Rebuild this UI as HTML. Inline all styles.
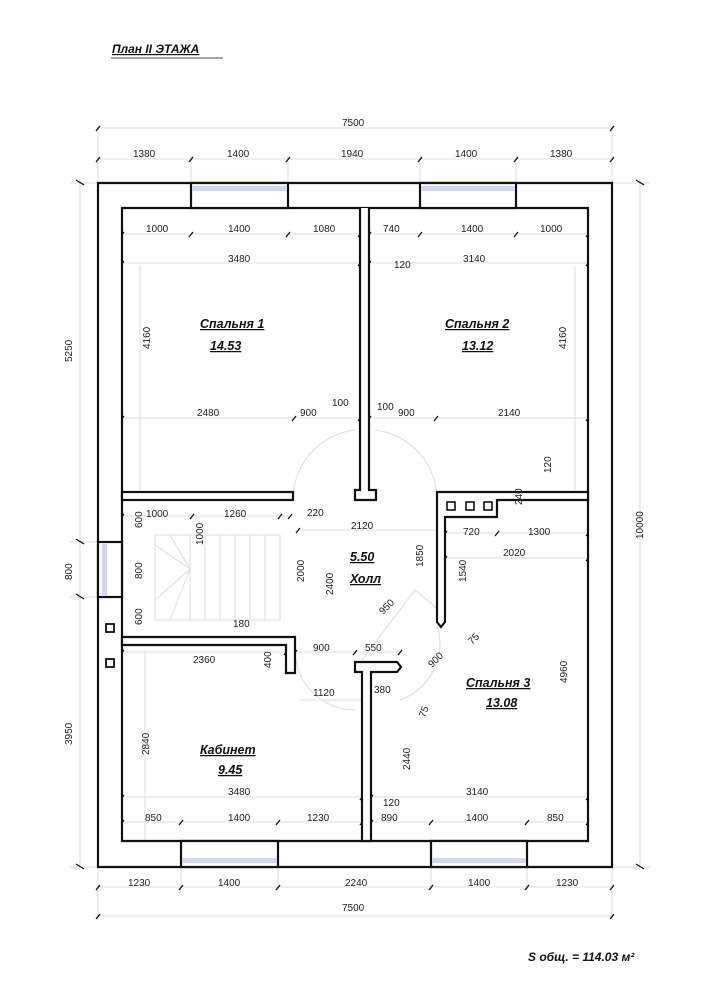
<!DOCTYPE html>
<html><head><meta charset="utf-8"><style>
html,body{margin:0;padding:0;background:#fff}
svg{display:block}
text{font-family:"Liberation Sans",Arial,sans-serif;font-size:10px;fill:#222}
.t{font-size:12.5px;font-weight:bold;font-style:italic;fill:#111;text-decoration:underline}
.d{stroke:#ddd;stroke-width:1;fill:none}
.tk{stroke:#111;stroke-width:1.3}
.w{fill:#fff;stroke:#111;stroke-width:2.2}
.win{fill:#d4d4f8}
</style></head><body>
<svg width="707" height="1000" viewBox="0 0 707 1000" xmlns="http://www.w3.org/2000/svg">
<text x="112" y="53" class="t" style="font-size:12px">План  II  ЭТАЖА</text>
<line x1="111" y1="58" x2="223" y2="58" stroke="#888" stroke-width="1.5"/>

<g class="d"><line x1="96" y1="128" x2="612" y2="128"/><line x1="96" y1="159" x2="612" y2="159"/>
<line x1="98" y1="125" x2="98" y2="182"/><line x1="612" y1="125" x2="612" y2="182"/>
<line x1="191" y1="156" x2="191" y2="182"/><line x1="288" y1="156" x2="288" y2="182"/>
<line x1="420" y1="156" x2="420" y2="182"/><line x1="516" y1="156" x2="516" y2="182"/>
<line x1="96" y1="887" x2="612" y2="887"/><line x1="96" y1="916" x2="612" y2="916"/>
<line x1="98" y1="867" x2="98" y2="920"/><line x1="612" y1="867" x2="612" y2="920"/>
<line x1="181" y1="867" x2="181" y2="890"/><line x1="278" y1="867" x2="278" y2="890"/>
<line x1="431" y1="867" x2="431" y2="890"/><line x1="527" y1="867" x2="527" y2="890"/>
<line x1="80" y1="180" x2="80" y2="867"/><line x1="640" y1="180" x2="640" y2="867"/>
<line x1="70" y1="183" x2="98" y2="183"/><line x1="70" y1="867" x2="98" y2="867"/><line x1="70" y1="542" x2="98" y2="542"/><line x1="70" y1="597" x2="98" y2="597"/>
<line x1="612" y1="183" x2="650" y2="183"/><line x1="612" y1="867" x2="650" y2="867"/>
<line x1="122" y1="234" x2="360" y2="234"/><line x1="369" y1="234" x2="588" y2="234"/>
<line x1="122" y1="263" x2="360" y2="263"/><line x1="369" y1="263" x2="588" y2="263"/>
<line x1="122" y1="418" x2="360" y2="418"/><line x1="369" y1="418" x2="588" y2="418"/>
<line x1="122" y1="797" x2="362" y2="797"/><line x1="371" y1="797" x2="588" y2="797"/>
<line x1="122" y1="822" x2="362" y2="822"/><line x1="371" y1="822" x2="588" y2="822"/>
<line x1="140" y1="265" x2="140" y2="490"/><line x1="575" y1="265" x2="575" y2="490"/>
<line x1="122" y1="516" x2="290" y2="516"/><line x1="300" y1="530" x2="437" y2="530"/>
<line x1="445" y1="533" x2="588" y2="533"/><line x1="445" y1="558" x2="588" y2="558"/>
<line x1="122" y1="652" x2="290" y2="652"/><line x1="296" y1="652" x2="400" y2="652"/>
<line x1="300" y1="700" x2="362" y2="700"/><line x1="590" y1="540" x2="590" y2="840"/>
<line x1="145" y1="650" x2="145" y2="840"/>
<path d="M293 500 A70 70 0 0 1 355 430"/><path d="M437 500 A70 70 0 0 0 375 430"/>
<path d="M295 650 A60 60 0 0 0 355 710"/><path d="M437 625 A60 60 0 0 1 400 700"/>
<path d="M362 660 L415 590 L445 615"/>
<rect x="155" y="535" width="125" height="85"/>
<line x1="190" y1="535" x2="190" y2="620"/><line x1="205" y1="535" x2="205" y2="620"/><line x1="220" y1="535" x2="220" y2="620"/><line x1="235" y1="535" x2="235" y2="620"/><line x1="250" y1="535" x2="250" y2="620"/><line x1="265" y1="535" x2="265" y2="620"/>
<line x1="190" y1="569" x2="155" y2="545"/><line x1="190" y1="569" x2="155" y2="600"/><line x1="190" y1="569" x2="170" y2="620"/><line x1="190" y1="569" x2="170" y2="535"/>
</g>

<g class="tk">
<path d="M96 131l4-5M610 131l4-5M96 162l4-5M189 162l4-5M286 162l4-5M418 162l4-5M514 162l4-5M610 162l4-5"/>
<path d="M96 890l4-5M179 890l4-5M276 890l4-5M429 890l4-5M525 890l4-5M610 890l4-5M96 919l4-5M610 919l4-5"/>
<path d="M76 180l8 5M76 539l8 5M76 594l8 5M76 864l8 5M636 180l8 5M636 864l8 5"/>
<path d="M120 237l4-5M189 237l4-5M286 237l4-5M358 237l4-5M367 237l4-5M418 237l4-5M514 237l4-5M586 237l4-5"/>
<path d="M120 266l4-5M358 266l4-5M367 266l4-5M586 266l4-5M120 421l4-5M292 421l4-5M358 421l4-5M367 421l4-5M434 421l4-5M586 421l4-5"/>
<path d="M120 800l4-5M360 800l4-5M369 800l4-5M586 800l4-5M120 825l4-5M179 825l4-5M276 825l4-5M360 825l4-5M369 825l4-5M429 825l4-5M525 825l4-5M586 825l4-5"/>
<path d="M120 519l4-5M190 519l4-5M278 519l4-5M288 519l4-5M296 533l4-5M443 536l4-5M495 536l4-5M586 536l4-5M443 561l4-5M586 561l4-5"/>
<path d="M120 655l4-5M284 655l4-5M293 655l4-5M353 655l4-5M398 655l4-5"/>
</g>

<text x="342" y="126">7500</text>
<text x="133" y="157">1380</text><text x="227" y="157">1400</text><text x="341" y="157">1940</text><text x="455" y="157">1400</text><text x="550" y="157">1380</text>
<text x="342" y="911">7500</text>
<text x="128" y="886">1230</text><text x="218" y="886">1400</text><text x="345" y="886">2240</text><text x="468" y="886">1400</text><text x="556" y="886">1230</text>
<text transform="translate(72,362) rotate(-90)">5250</text>
<text transform="translate(72,580) rotate(-90)">800</text>
<text transform="translate(72,745) rotate(-90)">3950</text>
<text transform="translate(643,539) rotate(-90)">10000</text>

<path fill-rule="evenodd" d="M98 183 H612 V867 H98 Z M122 208 V841 H588 V208 Z" fill="#fff" stroke="#111" stroke-width="2.2"/>
<rect x="191" y="183" width="97" height="25" class="w"/><rect x="192" y="186" width="95" height="5" class="win"/>
<rect x="420" y="183" width="96" height="25" class="w"/><rect x="421" y="186" width="94" height="5" class="win"/>
<rect x="181" y="841" width="97" height="26" class="w"/><rect x="182" y="858" width="95" height="5" class="win"/>
<rect x="431" y="841" width="96" height="26" class="w"/><rect x="432" y="858" width="94" height="5" class="win"/>
<rect x="98" y="542" width="24" height="55" class="w"/><rect x="102" y="544" width="5" height="51" class="win"/>
<rect x="106" y="624" width="8" height="8" fill="#fff" stroke="#111" stroke-width="1.8"/>
<rect x="106" y="659" width="8" height="8" fill="#fff" stroke="#111" stroke-width="1.8"/>

<path class="w" d="M360 208 V490 H355 V500 H376 V490 H369 V208"/>
<rect x="122" y="492" width="171" height="8" class="w"/>
<path class="w" d="M437 492 H588 V500 H497 V517 H445 V622 L441 627 L437 622 Z"/>
<rect x="447" y="502" width="8" height="8" fill="#fff" stroke="#111" stroke-width="1.6"/>
<rect x="466" y="502" width="8" height="8" fill="#fff" stroke="#111" stroke-width="1.6"/>
<rect x="484" y="502" width="8" height="8" fill="#fff" stroke="#111" stroke-width="1.6"/>
<path class="w" d="M122 637 H295 V673 H286 V645 H122 Z"/>
<path class="w" d="M355 662 H397 L401 667 L397 672 H371 V841 H362 V672 H355 Z"/>

<text x="146" y="232">1000</text><text x="228" y="232">1400</text><text x="313" y="232">1080</text>
<text x="383" y="232">740</text><text x="461" y="232">1400</text><text x="540" y="232">1000</text>
<text x="228" y="262">3480</text><text x="463" y="262">3140</text><text x="394" y="268">120</text>
<text x="197" y="416">2480</text><text x="300" y="416">900</text><text x="332" y="406">100</text><text x="377" y="410">100</text><text x="398" y="416">900</text><text x="498" y="416">2140</text>
<text transform="translate(150,349) rotate(-90)">4160</text><text transform="translate(566,349) rotate(-90)">4160</text>
<text transform="translate(551,473) rotate(-90)">120</text><text transform="translate(522,505) rotate(-90)">240</text>
<text x="146" y="517">1000</text><text x="224" y="517">1260</text><text x="307" y="516">220</text><text x="351" y="529">2120</text>
<text x="463" y="535">720</text><text x="528" y="535">1300</text><text x="503" y="556">2020</text>
<text transform="translate(142,528) rotate(-90)">600</text><text transform="translate(142,579) rotate(-90)">800</text><text transform="translate(142,625) rotate(-90)">600</text>
<text transform="translate(203,545) rotate(-90)">1000</text>
<text transform="translate(304,582) rotate(-90)">2000</text><text transform="translate(333,595) rotate(-90)">2400</text>
<text transform="translate(423,567) rotate(-90)">1850</text><text transform="translate(466,582) rotate(-90)">1540</text>
<text transform="translate(383,615) rotate(-45)">950</text><text transform="translate(472,645) rotate(-45)">75</text>
<text transform="translate(432,668) rotate(-45)">900</text><text transform="translate(425,718) rotate(-70)">75</text>
<text x="233" y="627">180</text><text x="313" y="651">900</text><text x="365" y="651">550</text>
<text x="193" y="663">2360</text><text transform="translate(271,668) rotate(-90)">400</text>
<text x="313" y="696">1120</text><text x="374" y="693">380</text>
<text transform="translate(567,683) rotate(-90)">4960</text><text transform="translate(149,755) rotate(-90)">2840</text><text transform="translate(410,770) rotate(-90)">2440</text>
<text x="228" y="795">3480</text><text x="466" y="795">3140</text>
<text x="145" y="821">850</text><text x="228" y="821">1400</text><text x="307" y="821">1230</text>
<text x="383" y="806">120</text><text x="381" y="821">890</text><text x="466" y="821">1400</text><text x="547" y="821">850</text>

<text x="200" y="328" class="t">Спальня 1</text><text x="210" y="350" class="t">14.53</text>
<text x="445" y="328" class="t">Спальня  2</text><text x="462" y="350" class="t">13.12</text>
<text x="350" y="561" class="t">5.50</text><text x="350" y="583" class="t">Холл</text>
<text x="466" y="687" class="t">Спальня 3</text><text x="486" y="707" class="t">13.08</text>
<text x="200" y="754" class="t">Кабинет</text><text x="218" y="774" class="t">9.45</text>
<text x="528" y="961" class="t" style="font-size:12px;text-decoration:none">S общ. = 114.03  м²</text>
</svg>
</body></html>
